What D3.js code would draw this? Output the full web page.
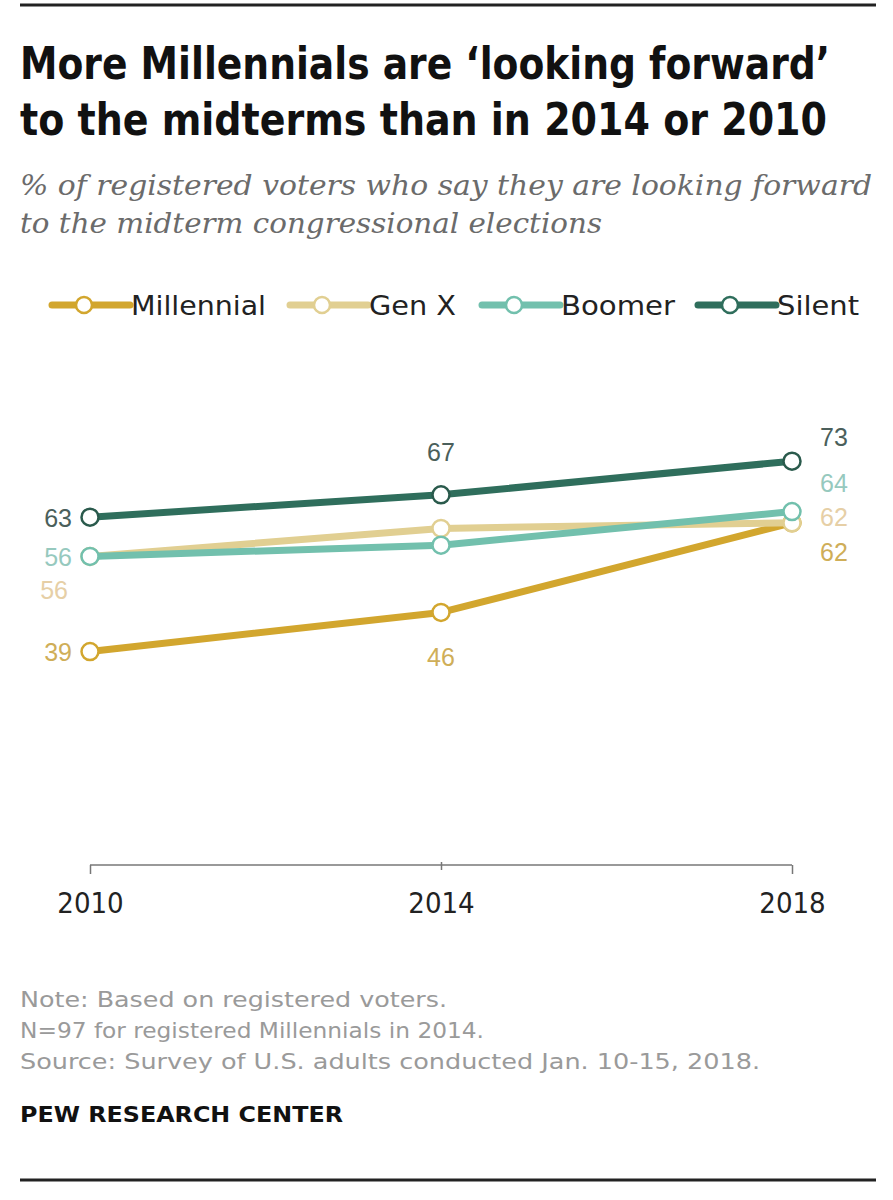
<!DOCTYPE html>
<html>
<head>
<meta charset="utf-8">
<style>
    body { margin: 0; background: #fff; }
    svg { display: block; }
    .title { font-family: 'Liberation Sans Narrow', 'DejaVu Sans Condensed', 'Arial Narrow', sans-serif; font-weight: 700; font-size: 44px; fill: #111; }
    .subtitle { font-family: 'DejaVu Serif', Georgia, serif; font-style: italic; font-size: 28px; fill: #6b6b6b; }
    .legend text { font-family: 'Liberation Sans Narrow', 'DejaVu Sans Condensed', sans-serif; font-size: 27px; fill: #222; }
    .lbl { font-family: 'Liberation Sans', Arial, sans-serif; font-size: 25px; }
    .axis text { font-family: 'Liberation Sans Narrow', 'DejaVu Sans Condensed', sans-serif; font-size: 29px; fill: #222; }
    .note { font-family: 'Liberation Sans Narrow', 'DejaVu Sans Condensed', sans-serif; font-size: 22px; fill: #9a9a9a; }
    .brand { font-family: 'Liberation Sans Narrow', 'DejaVu Sans Condensed', sans-serif; font-weight: 700; font-size: 21px; fill: #111; }
</style>
</head>
<body>
<svg width="893" height="1200"></svg>

<script src="https://d3js.org/d3.v7.min.js"></script>
<script>
    // data
    let years = [2010, 2014, 2018];
    let millennial = [39, 46, 62];
    let genX = [56, 61, 62];
    let boomer = [56, 58, 64];
    let silent = [63, 67, 73];
    let seriesNames = ["Millennial", "Gen X", "Boomer", "Silent"];

    // styling per series (drawing order = legend order)
    let lineColors = ["#d2a62e", "#e1cf92", "#72c0ad", "#2f6e5c"];
    let labelColors = ["#cfae58", "#e6cfa6", "#96c9be", "#4b5f5b"];
    // label offsets [dx, dy, anchor] for each year, null = no label
    let labelPos = [
        [[-18, 0, "end"], [0, 45, "middle"], [28, 29, "start"]],
        [[-22, 34, "end"], null, [28, -6, "start"]],
        [[-18, 1, "end"], null, [28, -29, "start"]],
        [[-18, 1, "end"], [0, -43, "middle"], [28, -24, "start"]]
    ];

    let series = [millennial, genX, boomer, silent].map((vals, i) => ({
        name: seriesNames[i],
        values: vals.map((v, j) => ({ year: years[j], value: v }))
    }));

    let svg = d3.select("svg");

    // rules
    svg.append("line").attr("x1", 20).attr("x2", 876).attr("y1", 5).attr("y2", 5)
        .style("stroke", "#222").style("stroke-width", 3);
    svg.append("line").attr("x1", 20).attr("x2", 876).attr("y1", 1180).attr("y2", 1180)
        .style("stroke", "#222").style("stroke-width", 3);

    // title and subtitle
    svg.append("text").attr("class", "title").attr("x", 20).attr("y", 79)
        .attr("textLength", 810).attr("lengthAdjust", "spacingAndGlyphs")
        .text("More Millennials are \u2018looking forward\u2019");
    svg.append("text").attr("class", "title").attr("x", 20).attr("y", 135)
        .attr("textLength", 807).attr("lengthAdjust", "spacingAndGlyphs")
        .text("to the midterms than in 2014 or 2010");
    svg.append("text").attr("class", "subtitle").attr("x", 20).attr("y", 195)
        .attr("textLength", 852).attr("lengthAdjust", "spacingAndGlyphs")
        .text("% of registered voters who say they are looking forward");
    svg.append("text").attr("class", "subtitle").attr("x", 20).attr("y", 233)
        .attr("textLength", 582).attr("lengthAdjust", "spacingAndGlyphs")
        .text("to the midterm congressional elections");

    // legend
    let legendX = [52, 290, 482, 698];
    let legendTextW = [135, 87, 114, 82];
    let legend = svg.append("g").attr("class", "legend")
        .selectAll("g").data(series).join("g")
        .attr("transform", (d, i) => `translate(${legendX[i]},305)`);
    legend.append("line").attr("x1", 0).attr("x2", 78).attr("y1", 0).attr("y2", 0)
        .style("stroke", (d, i) => lineColors[i]).style("stroke-width", 7)
        .style("stroke-linecap", "round");
    legend.append("circle").attr("cx", 32).attr("r", 8)
        .style("fill", "#fff").style("stroke", (d, i) => lineColors[i]).style("stroke-width", 2.5);
    legend.append("text").attr("x", 79).attr("y", 10)
        .attr("textLength", (d, i) => legendTextW[i]).attr("lengthAdjust", "spacingAndGlyphs")
        .text(d => d.name);

    // scales
    let x = d3.scalePoint().domain(years).range([90, 792]);
    let y = d3.scaleLinear().domain([0, 100]).range([870, 310]);

    // axis
    let axis = svg.append("g").attr("class", "axis").attr("transform", "translate(0,865)")
        .call(d3.axisBottom(x).tickSize(9).tickSizeOuter(0));
    axis.select(".domain").style("stroke", "#777").style("stroke-width", 1.5)
        .attr("d", `M${x(2010)},0H${x(2018)}`);
    axis.selectAll(".tick line").style("stroke", "#777").style("stroke-width", 1.5)
        .attr("y1", 0).attr("y2", 9);
    axis.selectAll(".tick").filter(d => d == 2014).select("line").attr("y1", -3).attr("y2", 5);
    axis.selectAll(".tick text").attr("y", 48).attr("dy", 0);

    let line = d3.line().x(d => x(d.year)).y(d => y(d.value));

    let groups = svg.append("g").selectAll("g").data(series).join("g");
    groups.append("path").attr("d", d => line(d.values))
        .style("fill", "none").style("stroke", (d, i) => lineColors[i])
        .style("stroke-width", 7).style("stroke-linejoin", "round").style("stroke-linecap", "round");
    groups.each(function (d, i) {
        d3.select(this).selectAll("circle").data(d.values).join("circle")
            .attr("cx", p => x(p.year)).attr("cy", p => y(p.value)).attr("r", 8.5)
            .style("fill", "#fff").style("stroke", i == 3 ? "#2a5a4c" : lineColors[i])
            .style("stroke-width", 2.5);
    });

    // data labels
    let labels = svg.append("g");
    series.forEach((s, i) => {
        s.values.forEach((p, j) => {
            let pos = labelPos[i][j];
            if (!pos) return;
            labels.append("text").attr("class", "lbl")
                .attr("x", x(p.year) + pos[0]).attr("y", y(p.value) + pos[1] + 9)
                .attr("text-anchor", pos[2])
                .style("fill", labelColors[i])
                .text(p.value);
        });
    });

    // notes
    let notes = [
        "Note: Based on registered voters.",
        "N=97 for registered Millennials in 2014.",
        "Source: Survey of U.S. adults conducted Jan. 10-15, 2018."
    ];
    let noteWidths = [427, 464, 740];
    svg.selectAll(".note").data(notes).join("text").attr("class", "note")
        .attr("x", 20).attr("y", (d, i) => 1007 + i * 31)
        .attr("textLength", (d, i) => noteWidths[i]).attr("lengthAdjust", "spacingAndGlyphs")
        .text(d => d);
    svg.append("text").attr("class", "brand").attr("x", 20).attr("y", 1122)
        .attr("textLength", 323).attr("lengthAdjust", "spacingAndGlyphs")
        .text("PEW RESEARCH CENTER");
</script>
</body>
</html>
